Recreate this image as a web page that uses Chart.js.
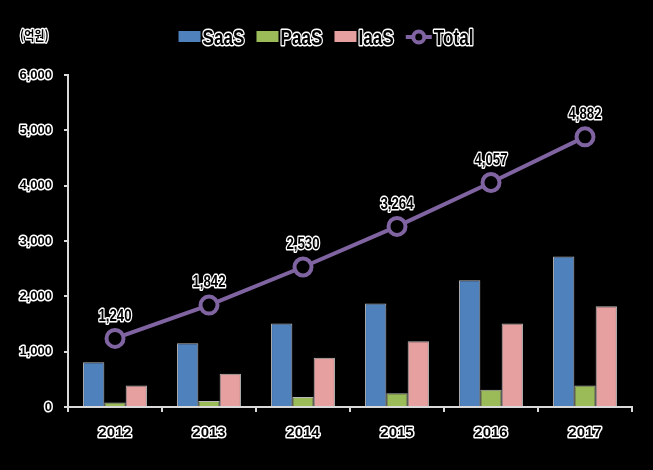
<!DOCTYPE html>
<html>
<head>
<meta charset="utf-8">
<script src="https://cdn.jsdelivr.net/npm/chart.js@4"></script>
<style>
  html, body { margin: 0; padding: 0; background: #000; }
  #wrap { width: 653px; height: 470px; }
</style>
</head>
<body>
<div id="wrap"><canvas id="cloudChart" width="653" height="470"></canvas></div>
<script>
const years = ['2012', '2013', '2014', '2015', '2016', '2017'];
const saas = [810, 1150, 1510, 1870, 2290, 2720];
const paas = [80, 110, 180, 250, 310, 390];
const iaas = [390, 600, 890, 1190, 1510, 1820];
const total = [1240, 1842, 2530, 3264, 4057, 4882];
const yMax = 6000;
const yStep = 1000;
const unitLabel = '(억원)';

const sans = "'Liberation Sans', Arial, sans-serif";
const squeeze = 0.78; // narrow look of the original font
const strokeW = 3;

// black text with a white outline, squeezed horizontally
function outlineText(ctx, text, x, y, sx) {
    ctx.save();
    ctx.translate(x, y);
    ctx.scale(sx || 1, 1);
    ctx.lineJoin = 'round';
    ctx.lineWidth = strokeW;
    ctx.strokeStyle = '#ffffff';
    ctx.strokeText(text, 0, 0);
    ctx.fillStyle = '#000000';
    ctx.fillText(text, 0, 0);
    ctx.restore();
}

const overlayPlugin = {
    id: 'overlay',
    beforeDraw(chart) {
        // round joins so the outlined tick labels get no spikes
        chart.ctx.lineJoin = 'round';
        chart.ctx.miterLimit = 2;
    },
    afterDraw(chart) {
        const ctx = chart.ctx;
        ctx.save();

        // unit
        ctx.font = "bold 13px 'Noto Sans CJK KR', sans-serif";
        ctx.textAlign = 'left';
        ctx.textBaseline = 'middle';
        outlineText(ctx, unitLabel, 20, 35, 0.85);

        // legend
        ctx.font = 'bold 22px ' + sans;
        const items = chart.data.datasets;
        const gap = 12, boxW = 22, lineW = 26, textGap = 2;
        const widths = items.map(ds => (ds.type === 'line' ? lineW : boxW) + textGap + ctx.measureText(ds.label).width * squeeze);
        const full = widths.reduce((a, b) => a + b, 0) + gap * (items.length - 1);
        let x = 326 - full / 2;
        const cy = 37;
        items.forEach(ds => {
            if (ds.type === 'line') {
                ctx.strokeStyle = ds.borderColor;
                ctx.lineWidth = 4;
                ctx.beginPath();
                ctx.moveTo(x, cy);
                ctx.lineTo(x + lineW, cy);
                ctx.stroke();
                ctx.beginPath();
                ctx.arc(x + lineW / 2, cy, 5.5, 0, Math.PI * 2);
                ctx.fillStyle = '#000';
                ctx.fill();
                ctx.stroke();
                x += lineW + textGap;
            } else {
                ctx.fillStyle = ds.backgroundColor;
                ctx.fillRect(x, cy - 6, boxW, 11);
                x += boxW + textGap;
            }
            ctx.textAlign = 'left';
            ctx.textBaseline = 'middle';
            outlineText(ctx, ds.label, x, cy + 2, squeeze);
            x += ctx.measureText(ds.label).width * squeeze + gap;
        });

        // total value labels
        const idx = items.findIndex(ds => ds.type === 'line');
        const meta = chart.getDatasetMeta(idx);
        ctx.font = 'bold 17px ' + sans;
        ctx.textAlign = 'center';
        ctx.textBaseline = 'bottom';
        meta.data.forEach((pt, i) => {
            outlineText(ctx, total[i].toLocaleString('en-US'), pt.x, pt.y - 14, squeeze);
        });

        ctx.restore();
    }
};

new Chart(document.getElementById('cloudChart'), {
    type: 'bar',
    data: {
        labels: years,
        datasets: [
            {
                label: 'SaaS',
                data: saas,
                backgroundColor: '#4F81BD',
                borderColor: 'rgba(230,230,230,0.8)',
                borderWidth: 1,
                order: 1
            },
            {
                label: 'PaaS',
                data: paas,
                backgroundColor: '#9BBB59',
                borderColor: 'rgba(230,230,230,0.8)',
                borderWidth: 1,
                order: 1
            },
            {
                label: 'IaaS',
                data: iaas,
                backgroundColor: '#E6A0A0',
                borderColor: 'rgba(230,230,230,0.8)',
                borderWidth: 1,
                order: 1
            },
            {
                type: 'line',
                label: 'Total',
                data: total,
                borderColor: '#8064A2',
                borderWidth: 4,
                pointRadius: 8.5,
                pointBorderWidth: 4,
                pointBackgroundColor: '#000000',
                pointBorderColor: '#8064A2',
                order: 0
            }
        ]
    },
    options: {
        responsive: false,
        animation: false,
        layout: { padding: { left: 0, right: 21, top: 75, bottom: 0 } },
        datasets: {
            bar: { categoryPercentage: 0.68, barPercentage: 1 }
        },
        plugins: {
            legend: { display: false },
            tooltip: { enabled: false }
        },
        scales: {
            x: {
                grid: { display: true, drawOnChartArea: false, drawTicks: true, tickLength: 5, color: '#d9d9d9', lineWidth: 2 },
                border: { color: '#d9d9d9', width: 2 },
                ticks: {
                    color: '#000',
                    textStrokeColor: '#fff',
                    textStrokeWidth: strokeW,
                    padding: 12,
                    font: { family: sans, size: 15, weight: 'bold' }
                },
                afterFit(scale) { scale.height = 63; }
            },
            y: {
                min: 0,
                max: yMax,
                grid: { display: true, drawOnChartArea: false, drawTicks: true, tickLength: 4, color: '#d9d9d9', lineWidth: 2 },
                border: { color: '#d9d9d9', width: 2 },
                ticks: {
                    stepSize: yStep,
                    color: '#000',
                    textStrokeColor: '#fff',
                    textStrokeWidth: strokeW,
                    padding: 12,
                    font: { family: sans, size: 13, weight: 'bold' },
                    callback: v => v.toLocaleString('en-US')
                },
                afterFit(scale) { scale.width = 68; }
            }
        }
    },
    plugins: [overlayPlugin]
});
</script>
</body>
</html>
